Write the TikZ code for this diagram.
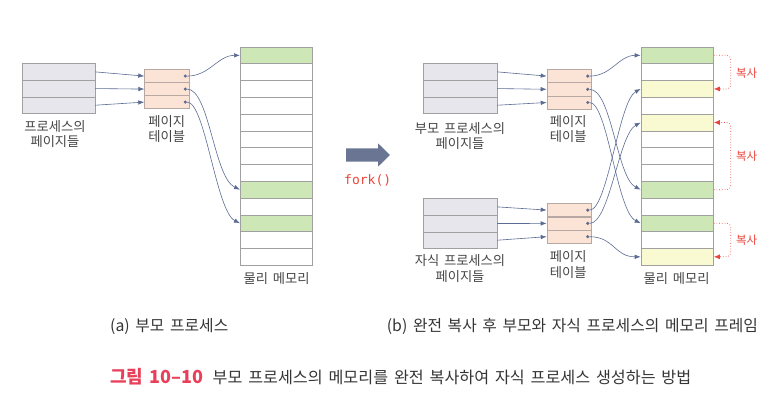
\documentclass[tikz,border=0pt]{standalone}
\usepackage{fontspec}
\setmainfont[WordSpace=1.6]{Noto Sans CJK KR}
\newfontfamily\monof{DejaVu Sans Mono}
\usetikzlibrary{arrows.meta,calc}
\definecolor{pagefill}{HTML}{E6E6EC}
\definecolor{ptfill}{HTML}{FBE3D6}
\definecolor{memg}{HTML}{CDE8B6}
\definecolor{memy}{HTML}{FAFAD2}
\definecolor{cellb}{HTML}{A0A0A0}
\definecolor{ptb}{HTML}{B8A8A4}
\definecolor{linkc}{HTML}{5B6B94}
\definecolor{copyred}{HTML}{E8453C}
\definecolor{forkc}{HTML}{6A7594}
\definecolor{forkred}{HTML}{E8453C}
\definecolor{capred}{HTML}{E8405A}
\definecolor{txtc}{HTML}{454545}
\definecolor{captxt}{HTML}{353535}
\begin{document}
\begin{tikzpicture}[x=1pt,y=-1pt,
  pg/.style={draw=cellb, line width=0.5pt, fill=pagefill, minimum width=73pt, minimum height=16.67pt, inner sep=0pt, anchor=north west},
  ptc/.style={draw=ptb, line width=0.5pt, fill=ptfill, minimum width=44.5pt, minimum height=13.1pt, inner sep=0pt, anchor=north west},
  memc/.style={draw=cellb, line width=0.5pt, minimum width=72.4pt, minimum height=16.79pt, inner sep=0pt, anchor=north west},
  dotm/.style={circle, fill=linkc, inner sep=0pt, minimum size=3.4pt},
  link/.style={draw=linkc, line width=0.6pt, -{Latex[length=6pt,width=4.5pt]}},
  copyl/.style={draw=copyred, dotted, line width=0.7pt, rounded corners=4pt, -{Latex[length=6pt,width=5pt]}},
  lbl/.style={font=\fontsize{13.3}{15.5}\selectfont, text=txtc, align=center, inner sep=0pt},
  cpl/.style={font=\fontsize{11.5}{12}\selectfont, text=copyred},
  capf/.style={font=\fontsize{15.8}{16}\selectfont, text=captxt, anchor=west, inner sep=0pt}
]
\useasboundingbox (0,0) rectangle (780,411);

% ---------- (a) parent ----------
\foreach \i in {0,1,2} {
  \node[pg] (pL\i) at (21.7,{63.3+16.67*\i}) {};
  \node[ptc] (tL\i) at (144.3,{69.3+13*\i}) {};
  \node[dotm] (dL\i) at ($(tL\i.east)+(-4,0)$) {};
}
\foreach \i/\c in {0/memg,1/white,2/white,3/white,4/white,5/white,6/white,7/white,8/memg,9/white,10/memg,11/white,12/white} {
  \node[memc, fill=\c] (mL\i) at (240,{46.7+16.79*\i}) {};
}
\foreach \i in {0,1,2} { \draw[link] (pL\i.east) -- (tL\i.west); }
\draw[link] (dL0) .. controls ($(dL0)+(24,0)$) and ($(mL0.west)+(-22,0)$) .. (mL0.west);
\draw[link] (dL1) .. controls ($(dL1)+(24,0)$) and ($(mL8.west)+(-26,-12)$) .. (mL8.west);
\draw[link] (dL2) .. controls ($(dL2)+(20,0)$) and ($(mL10.west)+(-24,-12)$) .. (mL10.west);

\node[lbl] (lpL) at (55,134.2) {프로세스의\\페이지들};
\node[lbl] (ltL) at (166.7,129) {페이지\\테이블};
\node[lbl] (lmL) at (276.7,278.3) {물리 메모리};

% ---------- fork ----------
\fill[forkc] (346,148.3) -- (378,148.3) -- (378,143.3) -- (390,155) -- (378,166.7) -- (378,161.7) -- (346,161.7) -- cycle;
\node[font=\monof\fontsize{13}{13}\selectfont, text=forkred] (fork) at (367.7,180.7) {fork()};

% ---------- (b) after copy ----------
\foreach \i in {0,1,2} {
  \node[pg, minimum width=73.4pt] (pP\i) at (423.3,{63.3+16.67*\i}) {};
  \node[pg, minimum width=73.4pt] (pC\i) at (423.3,{198.3+16.67*\i}) {};
  \node[ptc] (tP\i) at (546.7,{69.3+13.2*\i}) {};
  \node[ptc] (tC\i) at (546.7,{203.3+13.3*\i}) {};
  \node[dotm] (dP\i) at ($(tP\i.east)+(-4,0)$) {};
  \node[dotm] (dC\i) at ($(tC\i.east)+(-4,0)$) {};
}
\foreach \i/\c in {0/memg,1/white,2/memy,3/white,4/memy,5/white,6/white,7/white,8/memg,9/white,10/memg,11/white,12/memy} {
  \node[memc, fill=\c, minimum width=72.6pt] (mR\i) at (640.7,{46.7+16.79*\i}) {};
}
\foreach \i in {0,1,2} {
  \draw[link] (pP\i.east) -- (tP\i.west);
  \draw[link] (pC\i.east) -- (tC\i.west);
}
\draw[link] (dP0) .. controls ($(dP0)+(24,0)$) and ($(mR0.west)+(-22,0)$) .. (mR0.west);
\draw[link] (dP1) .. controls ($(dP1)+(24,0)$) and ($(mR8.west)+(-24,-12)$) .. (mR8.west);
\draw[link] (dP2) .. controls ($(dP2)+(20,0)$) and ($(mR10.west)+(-24,-12)$) .. (mR10.west);
\draw[link] (dC0) .. controls ($(dC0)+(20,0)$) and ($(mR2.west)+(-22,12)$) .. (mR2.west);
\draw[link] (dC1) .. controls ($(dC1)+(22,0)$) and ($(mR4.west)+(-22,12)$) .. (mR4.west);
\draw[link] (dC2) .. controls ($(dC2)+(26,0)$) and ($(mR12.west)+(-26,0)$) .. (mR12.west);

\draw[copyl] (mR0.east) -- ++(17,0) |- (mR2.east);
\draw[copyl] (mR8.east) -- ++(17,0) |- (mR4.east);
\draw[copyl] (mR10.east) -- ++(17,0) |- (mR12.east);
\node[cpl] (cp1) at (746.7,73.3) {복사};
\node[cpl] (cp2) at (746.7,156) {복사};
\node[cpl] (cp3) at (746.7,240) {복사};

\node[lbl] (lpP) at (460,135.8) {부모 프로세스의\\페이지들};
\node[lbl] (ltP) at (568.3,129) {페이지\\테이블};
\node[lbl] (lpC) at (460,268.7) {자식 프로세스의\\페이지들};
\node[lbl] (ltC) at (568.3,264.3) {페이지\\테이블};
\node[lbl] (lmR) at (676.7,278.3) {물리 메모리};

% ---------- captions ----------
\node[capf] (capa) at (110,326.5) {(a) 부모 프로세스};
\node[capf] (capb) at (386.7,326.5) {(b) 완전 복사 후 부모와 자식 프로세스의 메모리 프레임};
\node[capf, font=\fontsize{16.2}{16}\selectfont] (capm) at (110,377) {{\fontsize{18}{18}\selectfont\bfseries\color{capred}그림 10–10}\hspace{9pt}부모 프로세스의 메모리를 완전 복사하여 자식 프로세스 생성하는 방법};
\end{tikzpicture}
\end{document}
